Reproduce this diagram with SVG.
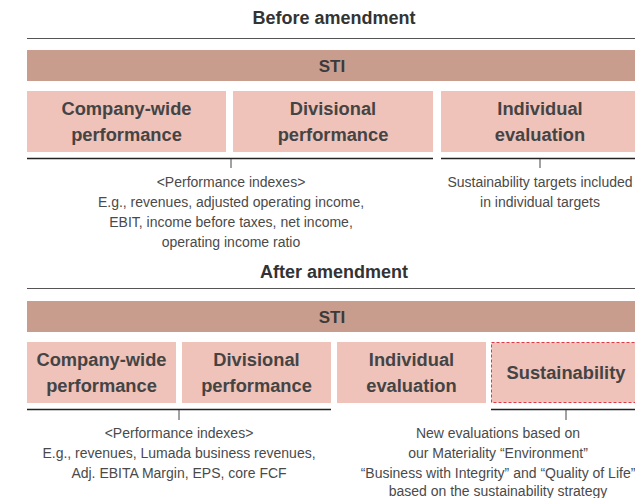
<svg xmlns="http://www.w3.org/2000/svg" width="635" height="498" viewBox="0 0 635 498">
<style>
.bg{fill:#ffffff}
.title{font-family:"Liberation Sans",Arial,sans-serif;font-size:18px;font-weight:bold;fill:#333;text-anchor:middle}
.bar{fill:#c99d8e}
.barText{font-family:"Liberation Sans",Arial,sans-serif;font-size:17px;font-weight:bold;fill:#3a3a3a;text-anchor:middle}
.box{fill:#efc2ba}
.boxDash{fill:#efc2ba;stroke:#e23a44;stroke-width:1;stroke-dasharray:3 2}
.boxText{font-family:"Liberation Sans",Arial,sans-serif;font-size:18.3px;font-weight:bold;fill:#444;text-anchor:middle}
.note{font-family:"Liberation Sans",Arial,sans-serif;font-size:14px;fill:#4a4a4a;text-anchor:middle}
.rule{stroke:#555;stroke-width:1.2}
.under{stroke:#222;stroke-width:1.4}
.tick{stroke:#444;stroke-width:1}
</style>
<rect class="bg" x="0" y="0" width="635" height="498"/>

<g id="before">
  <text class="title" x="334" y="24">Before amendment</text>
  <line class="rule" x1="27" y1="38.5" x2="635" y2="38.5"/>
  <g id="b-sti"><rect class="bar" x="27" y="50" width="608" height="31"/><text class="barText" x="332" y="72">STI</text></g>
  <g id="b-company"><rect class="box" x="27" y="91" width="199" height="61"/><text class="boxText" x="126.5" y="115">Company-wide</text><text class="boxText" x="126.5" y="141">performance</text></g>
  <g id="b-divisional"><rect class="box" x="233" y="91" width="200" height="61"/><text class="boxText" x="333" y="115">Divisional</text><text class="boxText" x="333" y="141">performance</text></g>
  <g id="b-individual"><rect class="box" x="441" y="91" width="194" height="61"/><text class="boxText" x="540" y="115">Individual</text><text class="boxText" x="540" y="141">evaluation</text></g>
  <g id="b-note-left">
    <text class="note" x="231" y="187">&lt;Performance indexes&gt;</text>
    <text class="note" x="231" y="207">E.g., revenues, adjusted operating income,</text>
    <text class="note" x="231" y="227">EBIT, income before taxes, net income,</text>
    <text class="note" x="231" y="247">operating income ratio</text>
  </g>
  <g id="b-note-right">
    <text class="note" x="540" y="187">Sustainability targets included</text>
    <text class="note" x="540" y="207">in individual targets</text>
  </g>
</g>

<g id="after">
  <text class="title" x="334" y="278">After amendment</text>
  <line class="rule" x1="27" y1="288.5" x2="635" y2="288.5"/>
  <g id="a-sti"><rect class="bar" x="27" y="301" width="608" height="31"/><text class="barText" x="332" y="323">STI</text></g>
  <g id="a-company"><rect class="box" x="27" y="342" width="149" height="61"/><text class="boxText" x="101.5" y="366">Company-wide</text><text class="boxText" x="101.5" y="392">performance</text></g>
  <g id="a-divisional"><rect class="box" x="182" y="342" width="149" height="61"/><text class="boxText" x="256.5" y="366">Divisional</text><text class="boxText" x="256.5" y="392">performance</text></g>
  <g id="a-individual"><rect class="box" x="337" y="342" width="149" height="61"/><text class="boxText" x="411.5" y="366">Individual</text><text class="boxText" x="411.5" y="392">evaluation</text></g>
  <g id="a-sustainability"><rect class="boxDash" x="491.5" y="342.5" width="150" height="60"/><text class="boxText" x="566" y="379">Sustainability</text></g>
  <g id="a-note-left">
    <text class="note" x="179" y="438">&lt;Performance indexes&gt;</text>
    <text class="note" x="179" y="458">E.g., revenues, Lumada business revenues,</text>
    <text class="note" x="179" y="478">Adj. EBITA Margin, EPS, core FCF</text>
  </g>
  <g id="a-note-right">
    <text class="note" x="498" y="438">New evaluations based on</text>
    <text class="note" x="498" y="458">our Materiality “Environment”</text>
    <text class="note" x="498" y="478">“Business with Integrity” and “Quality of Life”</text>
    <text class="note" x="498" y="496">based on the sustainability strategy</text>
  </g>
</g>

<g id="connectors">
  <line class="under" x1="27" y1="158.5" x2="433" y2="158.5"/>
  <line class="under" x1="441" y1="158.5" x2="635" y2="158.5"/>
  <line class="tick" x1="231" y1="159" x2="231" y2="168"/>
  <line class="tick" x1="540" y1="159" x2="540" y2="168"/>
  <line class="under" x1="27" y1="409.5" x2="331" y2="409.5"/>
  <line class="under" x1="491" y1="409.5" x2="635" y2="409.5"/>
  <line class="tick" x1="179" y1="410" x2="179" y2="420"/>
  <line class="tick" x1="566" y1="410" x2="566" y2="420"/>
</g>
</svg>
